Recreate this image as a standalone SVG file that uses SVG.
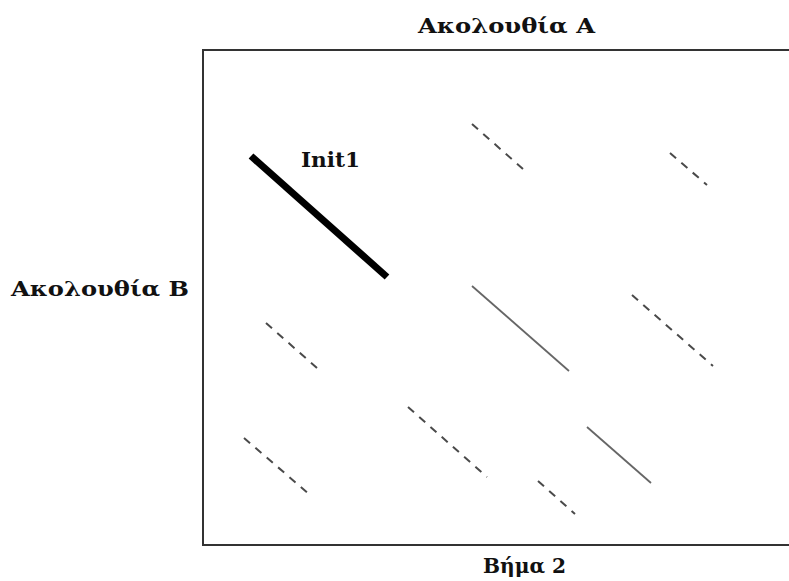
<svg xmlns="http://www.w3.org/2000/svg" width="789" height="581" viewBox="0 0 789 581">
<style>
.lbl{font-family:"DejaVu Serif","Liberation Serif",serif;font-weight:bold;font-size:21px;fill:#111}
.dash{stroke:#4a4a4a;stroke-width:2;stroke-dasharray:8 7;fill:none}
.solid{stroke:#666;stroke-width:1.8;fill:none}
</style>
<rect width="789" height="581" fill="#fff"/>
<g id="frame"><rect x="203" y="50" width="600" height="495" fill="none" stroke="#333" stroke-width="2"/></g>
<g id="labels">
<text class="lbl" x="418" y="33" textLength="177" lengthAdjust="spacingAndGlyphs">Ακολουθία A</text>
<text class="lbl" x="11" y="296" textLength="178" lengthAdjust="spacingAndGlyphs">Ακολουθία B</text>
<text class="lbl" x="483" y="573" textLength="83" lengthAdjust="spacingAndGlyphs">Βήμα 2</text>
</g>
<g id="init1">
<line x1="251" y1="156" x2="387" y2="277" stroke="#000" stroke-width="7"/>
<text class="lbl" x="301" y="167" textLength="59" lengthAdjust="spacingAndGlyphs">Init1</text>
</g>
<g id="connectors">
<line class="dash" x1="472" y1="124" x2="523" y2="169"/>
<line class="dash" x1="670" y1="153" x2="707" y2="185"/>
<line class="dash" x1="266" y1="323" x2="317" y2="368"/>
<line class="solid" x1="472" y1="286" x2="569" y2="371"/>
<line class="dash" x1="632" y1="295" x2="713" y2="366"/>
<line class="dash" x1="244" y1="438" x2="309" y2="494"/>
<line class="dash" x1="408" y1="407" x2="487" y2="477"/>
<line class="solid" x1="587" y1="427" x2="651" y2="483"/>
<line class="dash" x1="538" y1="481" x2="575" y2="514"/>
</g>
</svg>
